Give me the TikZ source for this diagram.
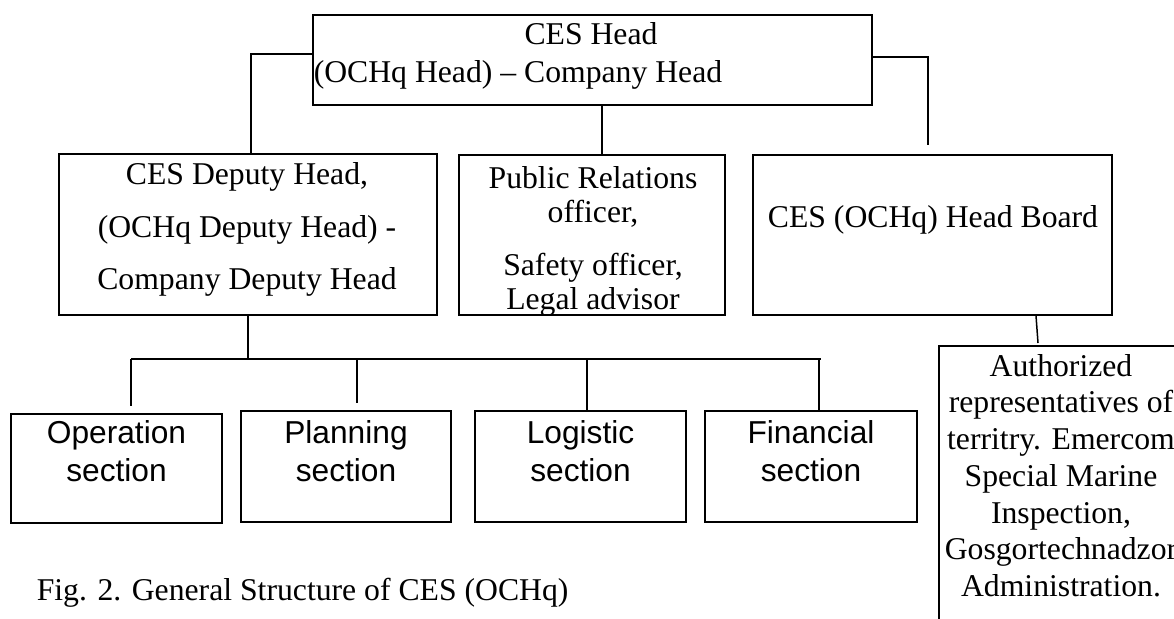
\documentclass[tikz,border=0pt]{standalone}
\usepackage{fontspec}
\setmainfont{Liberation Serif}
\setsansfont{Liberation Sans}
\usetikzlibrary{fit}
\tikzset{
  box/.style={draw,inner sep=0pt},
  txt/.style={inner sep=0pt,align=center,font=\fontsize{31.7}{36.7}\selectfont},
  sec/.style={inner sep=0pt,align=center,font=\sffamily\fontsize{31.7}{38}\selectfont}
}
\begin{document}
\begin{tikzpicture}[x=1pt,y=-1pt,line width=1.5pt]
  \useasboundingbox (0,0) rectangle (1174,618);
  \clip (0,0) rectangle (1174,618);
  % boxes
  \node[box,fit={(313,15)(872,105)}](head){};
  \node[box,fit={(59,154)(437,315)}](deputy){};
  \node[box,fit={(459,155)(725,315)}](pr){};
  \node[box,fit={(753,155)(1112,315)}](board){};
  \node[box,fit={(939,346)(1183,660)}](auth){};
  \node[box,fit={(11,414)(222,523)}](op){};
  \node[box,fit={(241,411)(451,522)}](plan){};
  \node[box,fit={(475,411)(686,522)}](log){};
  \node[box,fit={(705,411)(917,522)}](fin){};
  % texts
  \node[txt,anchor=base](headA)at(591,45){CES Head};
  \node[txt,anchor=base west](headB)at(313,82){(OCHq Head) -- Company Head};
  \node[txt,anchor=north,font=\fontsize{31.7}{52.5}\selectfont](deputyT)at(247,162)
    {CES Deputy Head,\\(OCHq Deputy Head) -\\Company Deputy Head};
  \node[txt,anchor=north,font=\fontsize{31.7}{34}\selectfont](prT)at(593,166)
    {Public Relations\\officer,\\[19pt]Safety officer,\\Legal advisor};
  \node[txt,anchor=base](boardT)at(933,227){CES (OCHq) Head Board};
  \node[txt,anchor=north](authT)at(1061,353.5)
    {Authorized\\representatives of\\territry. Emercom\\Special Marine\\Inspection,\\Gosgortechnadzor\\Administration.};
  \node[sec,anchor=north](opT)at(116.5,420){Operation\\section};
  \node[sec,anchor=north](planT)at(346,420){Planning\\section};
  \node[sec,anchor=north](logT)at(580.5,420){Logistic\\section};
  \node[sec,anchor=north](finT)at(811,420){Financial\\section};
  \node[txt,anchor=base west](caption)at(36,600){Fig. 2. General Structure of CES (OCHq)};
  % connectors
  \coordinate(hdL)at(251,54);
  \coordinate(hbR)at(928,57);
  \coordinate(hbE)at(928,145);
  \coordinate(prL)at(602,0);
  \coordinate(bus)at(131,359);
  \coordinate(busE)at(821,359);
  \coordinate(authE)at(1038,343);
  \draw(head.west|-hdL)-|(deputy.north-|hdL);
  \draw(head.east|-hbR)-|(hbE);
  \draw(head.south-|prL)--(pr.north-|prL);
  \draw(deputy.south)--(deputy.south|-bus);
  \draw(bus)--(busE);
  \foreach \n/\x/\g in{op/131/7,plan/357/7,log/587/0,fin/819/0}
    \draw[shorten >=\g pt](\x,0|-bus)--(\n.north-|\x,0);
  \draw(board.south-|1036,0)--(authE);
\end{tikzpicture}
\end{document}
